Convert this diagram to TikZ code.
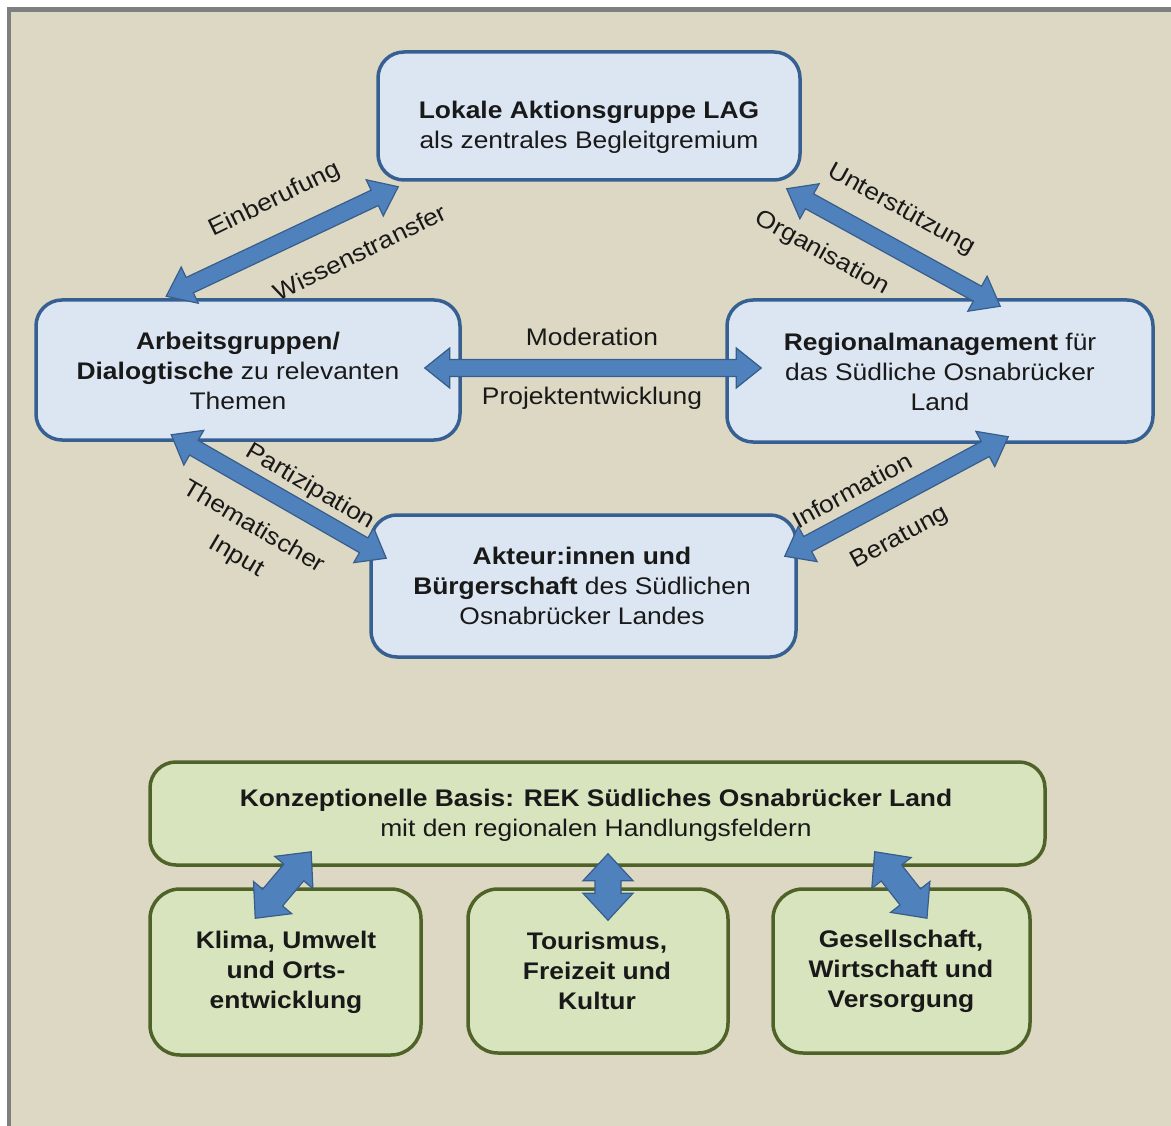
\documentclass[tikz,border=0pt]{standalone}
\usepackage{fontspec}
\setmainfont[FakeStretch=1.1]{Liberation Sans}
\usetikzlibrary{calc}

\definecolor{bgbeige}{HTML}{DDD8C4}
\definecolor{framegray}{HTML}{7F7F7F}
\definecolor{bluefill}{HTML}{DCE6F2}
\definecolor{blueline}{HTML}{376092}
\definecolor{greenfill}{HTML}{D7E4BD}
\definecolor{greenline}{HTML}{4F6228}
\definecolor{arrowfill}{HTML}{4F81BD}
\definecolor{arrowline}{HTML}{385D8A}

\tikzset{
  box/.style={rounded corners=26pt, line width=3.5pt, inner sep=0pt},
  bluebox/.style={box, draw=blueline, fill=bluefill},
  greenbox/.style={box, draw=greenline, fill=greenfill},
  greencard/.style={greenbox, rounded corners=30pt},
  txt/.style={align=center, inner sep=0pt, text=black!90, font=\fontsize{24}{30}\selectfont},
  lbl/.style={inner sep=0pt, text=black!90, font=\fontsize{24}{30}\selectfont},
  arrowbody/.style={fill=arrowfill, draw=arrowline, line width=1.2pt, line join=miter},
}

% double-headed block arrow between two named points
% #1 start, #2 end, #3 shaft half width, #4 head half width, #5 head length
\newcommand\blockarrow[5]{%
  \path[arrowbody] let \p1=(#1), \p2=(#2),
      \n1={atan2(\y2-\y1,\x2-\x1)}, \n2={veclen(\x2-\x1,\y2-\y1)} in
    [shift={(\p1)}, rotate=\n1]
    (0,0) -- (#5,#4) -- (#5,#3) -- (\n2-#5,#3) -- (\n2-#5,#4) -- (\n2,0)
    -- (\n2-#5,-#4) -- (\n2-#5,-#3) -- (#5,-#3) -- (#5,-#4) -- cycle;}

\begin{document}
\begin{tikzpicture}[x=1pt,y=-1pt]
\useasboundingbox (0,0) rectangle (1171,1126);
\fill[white] (0,0) rectangle (1171,1126);
\fill[bgbeige] (7,7) rectangle (1171,1126);
\draw[framegray, line width=4.5pt] (9,1126) -- (9,9.5) -- (1171,9.5);

% cooperation structure
\node[bluebox, minimum width=422pt, minimum height=128pt] (lag) at (589,116) {};
\node[txt] (lagtxt) at (589,127) {\textbf{Lokale Aktionsgruppe LAG}\\als zentrales Begleitgremium};

\node[bluebox, minimum width=424pt, minimum height=140pt] (arb) at (248,370) {};
\node[txt] (arbtxt) at (238,371) {\textbf{Arbeitsgruppen/}\\\textbf{Dialogtische} zu relevanten\\Themen};

\node[bluebox, minimum width=426pt, minimum height=142pt] (reg) at (940,371) {};
\node[txt] (regtxt) at (940,372) {\textbf{Regionalmanagement} für\\das Südliche Osnabrücker\\Land};

\node[bluebox, minimum width=425pt, minimum height=142pt] (akt) at (583.5,586) {};
\node[txt] (akttxt) at (582,586) {\textbf{Akteur:innen und}\\\textbf{Bürgerschaft} des Südlichen\\Osnabrücker Landes};

% conceptual basis and fields of action
\node[greenbox, minimum width=895pt, minimum height=103pt] (konz) at (597.5,813.5) {};
\node[txt] (konztxt) at (596,815) {\textbf{Konzeptionelle Basis: REK Südliches Osnabrücker Land}\\mit den regionalen Handlungsfeldern};

\node[greencard, minimum width=271pt, minimum height=166pt] (klima) at (285.5,972) {};
\node[txt, font=\fontsize{24}{30}\selectfont\bfseries] (klimatxt) at (286,972) {Klima, Umwelt\\und Orts-\\entwicklung};

\node[greencard, minimum width=260pt, minimum height=164pt] (tour) at (598,971) {};
\node[txt, font=\fontsize{24}{30}\selectfont\bfseries] (tourtxt) at (597,971) {Tourismus,\\Freizeit und\\Kultur};

\node[greencard, minimum width=257pt, minimum height=164pt] (ges) at (901.5,971) {};
\node[txt, font=\fontsize{24}{30}\selectfont\bfseries] (gestxt) at (901,971) {Gesellschaft,\\Wirtschaft und\\Versorgung};

% arrow ends
\coordinate (arbA) at ($(arb.north west)+(132,-2)$);
\coordinate (lagA) at ($(lag.south west)+(22,5)$);
\coordinate (lagB) at ($(lag.south east)+(-15,7)$);
\coordinate (regB) at ($(reg.north west)+(275,8)$);
\coordinate (arbC) at ($(arb.east)+(-37,-2)$);
\coordinate (regC) at ($(reg.west)+(36,-3)$);
\coordinate (arbD) at ($(arb.south west)+(137,-7)$);
\coordinate (aktD) at ($(akt.north west)+(17,45)$);
\coordinate (aktE) at ($(akt.north east)+(-13,43)$);
\coordinate (regE) at ($(reg.south west)+(283,-7)$);

\coordinate (konzK) at ($(konz.south west)+(163,-15)$);
\coordinate (klimaK) at ($(klima.north west)+(107,31)$);
\coordinate (konzT) at ($(konz.south)+(10.5,-13)$);
\coordinate (tourT) at ($(tour.north)+(10,33)$);
\coordinate (konzG) at ($(konz.south east)+(-172,-15)$);
\coordinate (gesG) at ($(ges.north)+(25.5,31)$);

\blockarrow{arbA}{lagA}{8.5}{20}{26}
\blockarrow{lagB}{regB}{8.5}{20}{26}
\blockarrow{arbC}{regC}{8.5}{20}{25}
\blockarrow{arbD}{aktD}{8.5}{20}{26}
\blockarrow{aktE}{regE}{8.5}{20}{26}

\blockarrow{klimaK}{konzK}{13}{25}{27}
\blockarrow{konzT}{tourT}{13}{25}{27}
\blockarrow{konzG}{gesG}{13}{25}{27}

% connector labels
\node[lbl, rotate=26] (einb) at (275,200) {Einberufung};
\node[lbl, rotate=26] (wiss) at (360,252) {Wissenstransfer};
\node[lbl, rotate=-29] (unter) at (901,210) {Unterstützung};
\node[lbl, rotate=-29] (orga) at (822,253) {Organisation};
\node[lbl] (mode) at (592,337) {Moderation};
\node[lbl] (proj) at (592,398) {Projektentwicklung};
\node[lbl, rotate=-30.5] (parti) at (310,487) {Partizipation};
\node[lbl, rotate=-30.5, align=center, font=\fontsize{24}{34}\selectfont] (thema) at (245,542) {Thematischer\\Input};
\node[lbl, rotate=28.5] (info) at (852,490) {Information};
\node[lbl, rotate=28.5] (bera) at (900,538) {Beratung};
\end{tikzpicture}
\end{document}
